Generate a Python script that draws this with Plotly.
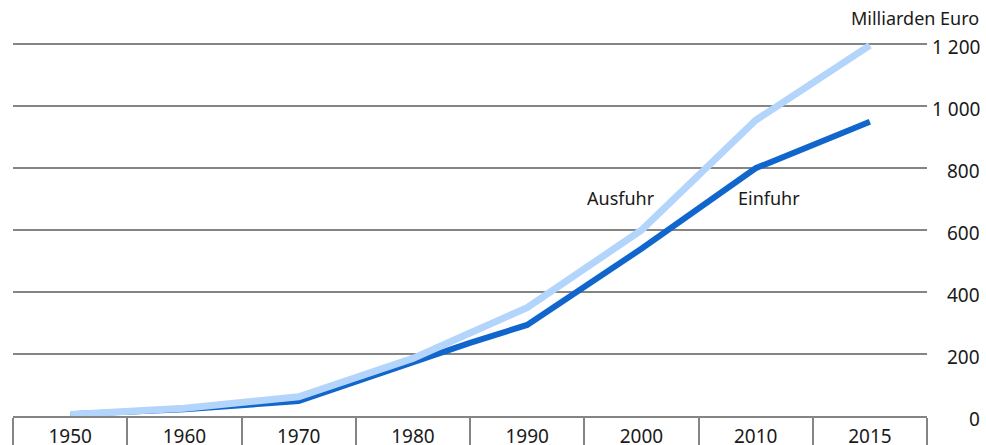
import numpy as np
import plotly.graph_objects as go

categories = ["1950", "1960", "1970", "1980", "1990", "2000", "2010", "2015"]
cat_years = [1950, 1960, 1970, 1980, 1990, 2000, 2010, 2015]

years = [1950, 1960, 1970, 1980, 1985, 1990, 2000, 2010, 2015]
ausfuhr = [5, 25, 62, 186, 268, 350, 600, 955, 1197]
einfuhr = [6, 22, 48, 176, 236, 294, 540, 800, 950]

y_ticks = [0, 200, 400, 600, 800, 1000, 1200]
y_tick_text = ["0", "200", "400", "600", "800", "1 000", "1 200"]

FONT = "Noto Sans"
GRID = "#858585"
TXT = "#1a1a1a"

xpos = np.interp(years, cat_years, np.arange(len(cat_years)))

fig = go.Figure()
fig.add_trace(go.Scatter(x=xpos, y=einfuhr, mode="lines", name="Einfuhr",
                         line=dict(color="#1066cc", width=6)))
fig.add_trace(go.Scatter(x=xpos, y=ausfuhr, mode="lines", name="Ausfuhr",
                         line=dict(color="#b3d4fb", width=7)))

fig.update_layout(
    width=986, height=445,
    margin=dict(l=13, r=59, t=32, b=29, autoexpand=False),
    plot_bgcolor="white", paper_bgcolor="white",
    showlegend=False,
    font=dict(family=FONT, size=18, color=TXT),
    xaxis=dict(
        range=[-0.5, len(categories) - 0.5],
        automargin=False,
        tickmode="array",
        tickvals=list(range(len(categories))),
        ticktext=categories,
        ticks="",
        showgrid=False,
        zeroline=False,
        showline=True, linecolor=GRID, linewidth=2,
        ticklabelstandoff=2,
        tickfont=dict(family=FONT, size=19, color=TXT),
        minor=dict(tickmode="array",
                   tickvals=list(np.arange(-0.5, len(categories))),
                   ticks="outside", ticklen=30, tickwidth=2, tickcolor=GRID,
                   showgrid=False),
    ),
    yaxis=dict(
        range=[0, 1240],
        automargin=False,
        tickmode="array", tickvals=y_ticks[1:],
        showticklabels=False,
        showgrid=True, gridcolor=GRID, gridwidth=2,
        zeroline=False,
    ),
)

for v, t in zip(y_ticks, y_tick_text):
    fig.add_annotation(x=1, xref="paper", y=v, yref="y", text=t, showarrow=False,
                       xanchor="right", yanchor="middle", xshift=55, yshift=-3,
                       font=dict(family=FONT, size=19, color=TXT))

fig.add_annotation(x=1, xref="paper", y=1, yref="paper", text="Milliarden Euro",
                   showarrow=False, xanchor="right", yanchor="bottom", xshift=54, yshift=0,
                   font=dict(family=FONT, size=18, color=TXT))

fig.add_annotation(x=4.82, y=705, text="Ausfuhr", showarrow=False,
                   font=dict(family=FONT, size=18, color=TXT))
fig.add_annotation(x=6.12, y=705, text="Einfuhr", showarrow=False,
                   font=dict(family=FONT, size=18, color=TXT))

fig.write_html("out.html", config={"displayModeBar": False},
               post_script="document.body.style.margin='0';document.body.style.overflow='hidden';")
